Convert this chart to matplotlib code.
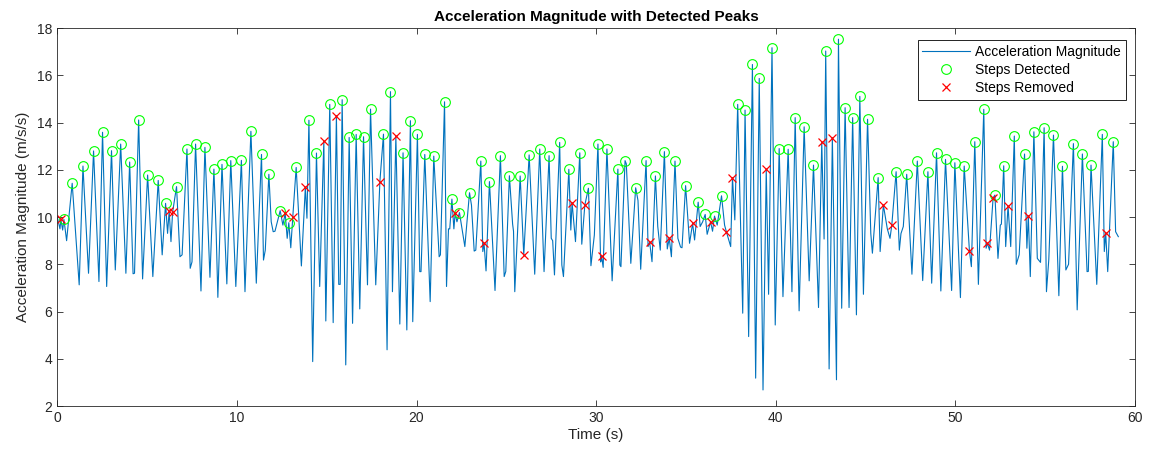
import numpy as np
import matplotlib
matplotlib.use("Agg")
import matplotlib.pyplot as plt

plt.rcParams['font.family'] = ['Liberation Sans', 'DejaVu Sans']

# Accepted step peaks (time in s, magnitude in m/s/s)
step_t = [0.37, 0.83, 1.43, 2.02, 2.52, 3.02, 3.53, 4.03, 4.53, 5.03,
          5.62, 6.03, 6.64, 7.22, 7.70, 8.22, 8.72, 9.17, 9.66, 10.25,
          10.78, 11.37, 11.78, 12.41, 12.89, 13.30, 14.01, 14.43, 15.17, 15.86,
          16.25, 16.64, 17.05, 17.44, 18.16, 18.55, 19.25, 19.66, 20.05, 20.46,
          20.96, 21.56, 21.97, 22.39, 22.95, 23.58, 24.06, 24.67, 25.17, 25.77,
          26.27, 26.86, 27.38, 27.97, 28.48, 29.09, 29.57, 30.10, 30.60, 31.21,
          31.61, 32.20, 32.78, 33.30, 33.80, 34.39, 34.98, 35.68, 36.07, 36.59,
          36.98, 37.88, 38.29, 38.70, 39.08, 39.79, 40.19, 40.69, 41.08, 41.58,
          42.10, 42.78, 43.49, 43.86, 44.28, 44.68, 45.11, 45.70, 46.70, 47.29,
          47.88, 48.47, 48.95, 49.45, 49.97, 50.49, 51.08, 51.58, 52.20, 52.69,
          53.28, 53.85, 54.37, 54.94, 55.46, 55.96, 56.57, 57.07, 57.55, 58.18,
          58.79]
step_a = [9.9, 11.43, 12.16, 12.8, 13.59, 12.81, 13.09, 12.33, 14.11, 11.78,
          11.55, 10.58, 11.29, 12.88, 13.09, 12.95, 12.03, 12.23, 12.39, 12.4,
          13.63, 12.65, 11.81, 10.27, 9.76, 12.1, 14.1, 12.71, 14.77, 14.97,
          13.37, 13.5, 13.4, 14.57, 13.51, 15.31, 12.72, 14.08, 13.5, 12.65,
          12.58, 14.88, 10.76, 10.19, 11.03, 12.37, 11.5, 12.6, 11.75, 11.74,
          12.63, 12.88, 12.6, 13.16, 12.02, 12.72, 11.22, 13.09, 12.88, 12.03,
          12.39, 11.24, 12.39, 11.74, 12.77, 12.37, 11.33, 10.63, 10.11, 10.04,
          10.9, 14.77, 14.53, 16.46, 15.87, 17.17, 12.9, 12.87, 14.21, 13.82,
          12.2, 17.03, 17.53, 14.63, 14.21, 15.11, 14.14, 11.67, 11.92, 11.81,
          12.37, 11.92, 12.72, 12.44, 12.3, 12.16, 13.19, 14.56, 10.93, 12.17,
          13.43, 12.67, 13.61, 13.78, 13.47, 12.15, 13.11, 12.67, 12.2, 13.5,
          13.19]

# Rejected peaks
removed_t = [0.20, 6.23, 6.42, 12.69, 13.11, 13.81, 14.84, 15.54, 17.96, 18.85,
             22.15, 23.76, 25.97, 28.66, 29.37, 30.30, 32.98, 34.07, 35.37, 36.37,
             37.25, 37.59, 39.47, 42.56, 43.15, 45.99, 46.46, 50.78, 51.78, 52.10,
             52.93, 54.06, 58.37]
removed_a = [9.9, 10.26, 10.2, 10.16, 9.99, 11.26, 13.22, 14.29, 11.5, 13.43,
             10.16, 8.89, 8.39, 10.61, 10.51, 8.35, 8.93, 9.1, 9.73, 9.8,
             9.38, 11.67, 12.03, 13.19, 13.36, 10.51, 9.66, 8.58, 8.89, 10.82,
             10.47, 10.06, 9.31]

# Remaining samples of the magnitude trace (troughs and shoulders)
other_t = [0.00, 0.15, 0.30, 0.52, 1.22, 1.74, 2.32, 2.75, 3.23, 3.82,
           4.22, 4.30, 4.75, 5.32, 5.84, 6.14, 6.33, 6.83, 6.95, 7.40,
           7.50, 8.00, 8.50, 8.85, 8.94, 9.44, 9.94, 10.45, 11.08, 11.48,
           11.58, 11.91, 12.02, 12.12, 12.56, 12.80, 13.00, 13.59, 13.90, 14.22,
           14.61, 14.95, 15.36, 15.67, 15.75, 16.06, 16.44, 16.84, 17.27, 17.73,
           18.36, 18.66, 19.07, 19.46, 19.79, 20.18, 20.25, 20.76, 21.26, 21.33,
           21.67, 21.78, 21.85, 22.08, 22.25, 22.50, 22.69, 23.06, 23.21, 23.30,
           23.69, 23.87, 24.37, 24.88, 24.97, 25.35, 25.40, 25.47, 26.58, 27.10,
           27.50, 27.58, 27.68, 28.09, 28.18, 28.59, 28.85, 29.20, 29.71, 29.90,
           30.25, 30.39, 30.89, 31.32, 31.38, 31.68, 31.93, 32.33, 32.48, 32.89,
           33.11, 33.43, 33.57, 33.96, 34.19, 34.55, 34.70, 34.78, 35.20, 35.30,
           35.48, 35.79, 35.93, 36.18, 36.48, 36.74, 37.15, 37.49, 37.72, 38.16,
           38.49, 38.88, 39.29, 39.60, 39.97, 40.40, 40.90, 41.30, 41.86, 42.38,
           42.69, 42.97, 43.38, 43.67, 44.08, 44.49, 44.88, 45.29, 45.38, 45.81,
           46.21, 46.36, 46.88, 46.97, 47.10, 47.58, 48.18, 48.68, 49.19, 49.79,
           50.28, 50.89, 51.28, 51.71, 51.90, 52.37, 52.50, 52.56, 52.80, 53.08,
           53.39, 53.55, 53.98, 54.17, 54.56, 54.74, 55.07, 55.20, 55.76, 56.15,
           56.30, 56.78, 57.33, 57.40, 57.87, 58.29, 58.48, 58.92, 59.07]
other_a = [10.0, 9.5, 9.45, 9.0, 7.13, 7.62, 7.27, 7.06, 7.76, 7.62,
           7.6, 7.62, 7.38, 7.48, 8.4, 9.31, 8.96, 8.32, 8.4, 7.83,
           8.1, 6.87, 7.45, 9.24, 6.6, 7.17, 7.06, 6.84, 7.2, 8.18,
           8.6, 9.8, 9.38, 9.4, 9.66, 9.1, 8.7, 7.93, 9.95, 3.88,
           7.06, 5.6, 5.53, 7.15, 7.15, 3.74, 5.5, 6.11, 7.13, 7.13,
           4.38, 6.84, 5.47, 5.22, 5.57, 7.69, 7.69, 6.42, 8.32, 8.4,
           7.06, 9.5, 9.5, 9.5, 9.8, 9.66, 8.75, 10.5, 8.56, 8.6,
           8.54, 7.72, 6.89, 7.48, 7.7, 9.7, 9.4, 6.84, 7.58, 7.69,
           9.1, 9.0, 7.55, 7.97, 7.48, 9.45, 8.96, 8.85, 7.94, 9.24,
           8.1, 7.87, 7.3, 7.97, 7.9, 12.25, 8.04, 10.7, 7.79, 8.75,
           8.11, 9.6, 8.6, 8.65, 8.32, 9.1, 8.73, 8.7, 8.89, 9.4,
           9.03, 9.6, 9.8, 9.27, 9.4, 9.66, 9.66, 8.75, 9.88, 5.93,
           4.94, 3.18, 2.68, 6.73, 5.43, 6.63, 6.84, 6.03, 7.3, 6.17,
           9.07, 3.57, 3.11, 6.14, 6.17, 5.86, 6.73, 9.31, 8.47, 8.54,
           9.5, 9.1, 8.6, 9.3, 9.6, 7.58, 7.31, 7.2, 6.87, 6.89,
           6.59, 7.9, 7.15, 8.68, 8.6, 8.25, 9.66, 9.7, 8.75, 8.75,
           8.0, 8.4, 8.68, 7.48, 8.25, 8.08, 6.84, 8.2, 6.67, 7.76,
           8.0, 6.07, 7.69, 7.7, 7.15, 8.54, 7.69, 9.38, 9.17]

# Full trace: all samples merged in time order
t_all = np.concatenate([other_t, step_t, removed_t])
a_all = np.concatenate([other_a, step_a, removed_a])
order = np.argsort(t_all, kind="stable")
time_s = t_all[order]
accel_mag = a_all[order]

axis_color = "#262626"

fig = plt.figure(figsize=(11.57, 4.61), dpi=100)
ax = fig.add_axes([0.0495, 0.1193, 0.9315, 0.8197])

ax.plot(time_s, accel_mag, color="#0072BD", linewidth=0.8,
        label="Acceleration Magnitude")
ax.plot(step_t, step_a, linestyle="none", marker="o", markersize=7,
        markerfacecolor="none", markeredgecolor="#00FF00", markeredgewidth=0.8,
        label="Steps Detected")
ax.plot(removed_t, removed_a, linestyle="none", marker="x", markersize=6,
        color="#FF0000", markeredgewidth=0.9, label="Steps Removed")

ax.set_xlim(0, 60)
ax.set_ylim(2, 18)
ax.set_xticks(np.arange(0, 61, 10))
ax.set_yticks(np.arange(2, 19, 2))

ax.tick_params(direction="in", top=True, right=True, length=4, width=0.6,
               labelsize=10, colors=axis_color)
for sp in ax.spines.values():
    sp.set_color(axis_color)
    sp.set_linewidth(0.6)

ax.set_xlabel("Time (s)", fontsize=11, color=axis_color, labelpad=2)
ax.set_ylabel("Acceleration Magnitude (m/s/s)", fontsize=11, color=axis_color,
              labelpad=5)
ax.set_title("Acceleration Magnitude with Detected Peaks", fontsize=11,
             fontweight="bold", color="black", pad=5)

leg = ax.legend(loc="upper right", bbox_to_anchor=(0.9915, 0.968), fontsize=10,
                fancybox=False, framealpha=1, edgecolor="black",
                handlelength=3.4, borderpad=0.35, labelspacing=0.28,
                handletextpad=0.4, borderaxespad=0)
leg.get_frame().set_linewidth(0.6)

fig.savefig("out.png", dpi=100)
